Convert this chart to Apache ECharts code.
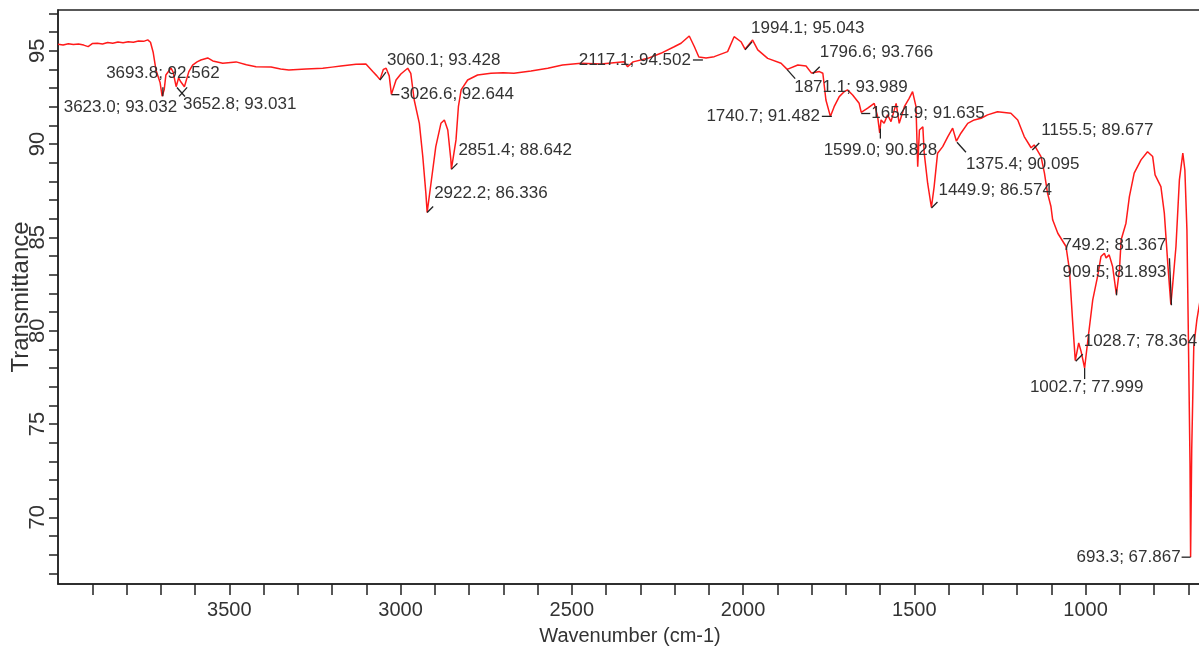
<!DOCTYPE html>
<html>
<head>
<meta charset="utf-8">
<script src="https://cdn.jsdelivr.net/npm/echarts@6/dist/echarts.min.js"></script>
<style>
html,body{margin:0;padding:0;background:#fff;}
#chart{width:1199px;height:652px;}
</style>
</head>
<body>
<div id="chart"></div>
<script>
// Spectrum (wavenumber, cm-1) and transmittance values
const wavenumbers = [4000,3985,3970,3955,3940,3925,3912,3900,3885,3870,3855,3840,3825,3810,3795,3780,3765,3750,3738,3730,3722,3714,3702,3696,3690,3685,3670,3664,3655,3648,3641,3631,3618,3607,3594,3583,3563,3548,3519,3480,3450,3422,3378,3350,3326,3276,3227,3200,3174,3130,3101,3081,3069,3060,3050,3042,3033,3026.6,3013,2999,2979,2970,2960,2945,2935,2926,2922.2,2911,2897,2882,2872,2862,2853,2851.4,2838,2831,2823,2804,2775,2736,2700,2669,2619,2570,2527,2473,2415,2377,2347,2337,2321,2278,2240,2201,2181,2157,2142,2129,2108,2084,2045,2026,2006,1994.1,1972,1957,1928,1889,1871.1,1840,1816,1800,1777,1767,1758,1745,1734,1719,1704,1695,1680,1661,1654.9,1636,1617,1607,1601,1597,1588,1578,1568,1553,1544,1529,1515,1505,1495,1490,1485,1475,1471,1461,1450,1442,1432,1417,1402,1388,1377,1364,1344,1325,1305,1286,1257,1218,1198,1179,1159,1150,1130,1120,1111,1101,1096,1081,1057,1047,1038,1030,1020,1013,1002.7,992,979,965,955,945,940,931,921,910,901,896,882,872,858,838,819,804,797,780,770,760,751,746,736,726,716,710,704,700,695,693.3,690,684,675,664];
const transmittance = [95.35,95.30,95.37,95.33,95.36,95.30,95.22,95.38,95.40,95.36,95.44,95.40,95.46,95.42,95.48,95.45,95.52,95.50,95.58,95.45,94.90,93.97,93.30,92.56,92.90,93.70,94.07,93.86,93.07,93.54,93.32,93.07,93.88,94.23,94.40,94.50,94.61,94.45,94.33,94.40,94.25,94.14,94.13,94.02,93.97,94.02,94.06,94.12,94.18,94.27,94.29,93.88,93.65,93.45,94.00,94.06,93.65,92.66,93.43,93.75,94.06,93.79,92.36,91.11,89.33,87.37,86.34,87.90,89.86,91.11,91.29,90.75,89.15,88.65,90.22,92.00,92.90,93.43,93.70,93.79,93.82,93.79,93.91,94.06,94.23,94.33,94.29,94.36,94.41,94.14,94.40,94.59,94.86,95.21,95.40,95.79,95.21,94.66,94.61,94.68,94.95,95.75,95.48,95.08,95.57,95.04,94.59,94.33,94.00,94.23,94.18,93.80,93.88,93.79,92.36,91.48,92.00,92.54,92.81,92.90,92.63,92.18,91.70,91.92,92.18,91.47,90.60,91.29,91.11,91.56,91.20,92.18,91.11,92.00,92.45,92.81,92.00,88.79,90.75,90.93,89.51,87.90,86.60,87.72,89.51,89.86,90.40,90.85,90.15,90.58,91.11,91.29,91.38,91.56,91.73,91.65,91.29,90.40,89.80,89.95,89.33,88.44,87.37,86.65,85.94,85.22,84.51,83.26,80.58,78.40,79.34,78.89,78.00,79.69,81.65,82.90,83.97,84.15,83.90,84.06,83.44,81.95,83.26,84.87,85.76,87.18,88.44,89.15,89.59,89.33,88.35,87.72,86.30,83.62,81.40,82.37,84.51,88.08,89.51,88.61,85.40,80.05,72.90,67.87,73.62,79.15,80.58,81.80];

// Annotated peaks
const peakWavenumbers = [3693.8,3623.0,3652.8,3060.1,3026.6,2851.4,2922.2,2117.1,1994.1,1796.6,1871.1,1740.7,1654.9,1599.0,1449.9,1375.4,1155.5,1028.7,1002.7,909.5,749.2,693.3];
const peakValues = [92.562,93.032,93.031,93.428,92.644,88.642,86.336,94.502,95.043,93.766,93.989,91.482,91.635,90.828,86.574,90.095,89.677,78.364,77.999,81.893,81.367,67.867];

// Axis ticks and labels
const xTickValues = [700,800,900,1000,1100,1200,1300,1400,1500,1600,1700,1800,1900,2000,2100,2200,2300,2400,2500,2600,2700,2800,2900,3000,3100,3200,3300,3400,3500,3600,3700,3800,3900];
const xTickLabels = [1000,1500,2000,2500,3000,3500];
const yTickValues = [67,68,69,70,71,72,73,74,75,76,77,78,79,80,81,82,83,84,85,86,87,88,89,90,91,92,93,94,95,96,97];
const yTickLabels = [70,75,80,85,90,95];

// Label placement for each annotation (layout only): leader end offset, label offset, alignment
const annLayout = [
  {lx:0, ly:-9, dx:0, dy:-23, align:'center'},
  {lx:-8, ly:9, dx:-10, dy:20, align:'right'},
  {lx:8, ly:9, dx:6, dy:17, align:'left'},
  {lx:6, ly:-8, dx:7, dy:-20, align:'left'},
  {lx:8, ly:0, dx:9, dy:0, align:'left'},
  {lx:6, ly:-6, dx:7, dy:-19, align:'left'},
  {lx:6, ly:-6, dx:7, dy:-19, align:'left'},
  {lx:-10, ly:0, dx:-12, dy:0, align:'right'},
  {lx:7, ly:-8, dx:6, dy:-22, align:'left'},
  {lx:7, ly:-7, dx:7, dy:-21, align:'left'},
  {lx:8, ly:9, dx:7, dy:18, align:'left'},
  {lx:-10, ly:0, dx:-12, dy:0, align:'right'},
  {lx:9, ly:0, dx:10, dy:0, align:'left'},
  {lx:0, ly:10, dx:0, dy:22, align:'center'},
  {lx:6, ly:-6, dx:7, dy:-18, align:'left'},
  {lx:9, ly:10, dx:9, dy:22, align:'left'},
  {lx:7, ly:-7, dx:9, dy:-20, align:'left'},
  {lx:7, ly:-7, dx:8, dy:-20, align:'left'},
  {lx:0, ly:11, dx:2, dy:19, align:'center'},
  {lx:0, ly:-6, dx:-2, dy:-23, align:'center'},
  {lx:-2, ly:-47, dx:-5, dy:-60, align:'right'},
  {lx:-9, ly:0, dx:-10, dy:0, align:'right'}
];

const spectrum = wavenumbers.map((w, i) => [w, transmittance[i]]);
const peaks = peakWavenumbers.map((w, i) => [w, peakValues[i]]);

const axisColor = '#222';
const textColor = '#333';
const fontFam = "'Liberation Sans', Arial, sans-serif";
const chart = echarts.init(document.getElementById('chart'), null, {renderer: 'canvas'});

chart.setOption({
  animation: false,
  backgroundColor: '#fff',
  grid: {left: 58, right: -3, top: 10, bottom: 68, containLabel: false, outerBoundsMode: 'none',
         show: true, borderColor: axisColor, borderWidth: 1.5, backgroundColor: 'transparent'},
  xAxis: {
    type: 'value', inverse: true, min: 660, max: 4000,
    splitLine: {show: false},
    axisLine: {show: true, onZero: false, lineStyle: {color: axisColor, width: 1.5}},
    axisTick: {show: true, customValues: xTickValues, length: 11, lineStyle: {color: axisColor, width: 1.5}},
    axisLabel: {customValues: xTickLabels, formatter: v => String(v), fontSize: 20, fontFamily: fontFam, color: textColor, margin: 16},
    name: 'Wavenumber (cm-1)', nameLocation: 'middle', nameGap: 42, nameMoveOverlap: false,
    nameTextStyle: {fontSize: 20, fontFamily: fontFam, color: textColor, verticalAlign: 'top'}
  },
  yAxis: {
    type: 'value', min: 66.43, max: 97.18,
    splitLine: {show: false},
    axisLine: {show: true, onZero: false, lineStyle: {color: axisColor, width: 1.5}},
    axisTick: {show: true, customValues: yTickValues, length: 9, lineStyle: {color: axisColor, width: 1.5}},
    axisLabel: {customValues: yTickLabels, formatter: v => String(v), rotate: 90, fontSize: 22, fontFamily: fontFam, color: textColor, margin: 9},
    name: 'Transmittance', nameLocation: 'middle', nameGap: 25, nameMoveOverlap: false,
    nameTextStyle: {fontSize: 24, fontFamily: fontFam, color: textColor}
  },
  series: [
    {
      type: 'line', data: spectrum, showSymbol: false, symbol: 'none',
      lineStyle: {color: '#ff1a1a', width: 1.5}, z: 2
    },
    {
      type: 'custom', data: peaks, z: 3, clip: false,
      renderItem: function (params, api) {
        const i = params.dataIndex;
        const p = api.coord([api.value(0), api.value(1)]);
        const L = annLayout[i];
        const label = peakWavenumbers[i].toFixed(1) + '; ' + peakValues[i].toFixed(3);
        return {
          type: 'group',
          children: [
            {type: 'line', shape: {x1: p[0], y1: p[1], x2: p[0] + L.lx, y2: p[1] + L.ly}, style: {stroke: '#222', lineWidth: 1.3}},
            {type: 'text', x: p[0] + L.dx, y: p[1] + L.dy,
             style: {text: label, fill: textColor, font: "17px " + fontFam, align: L.align, verticalAlign: 'middle'}}
          ]
        };
      }
    }
  ]
});
</script>
</body>
</html>
